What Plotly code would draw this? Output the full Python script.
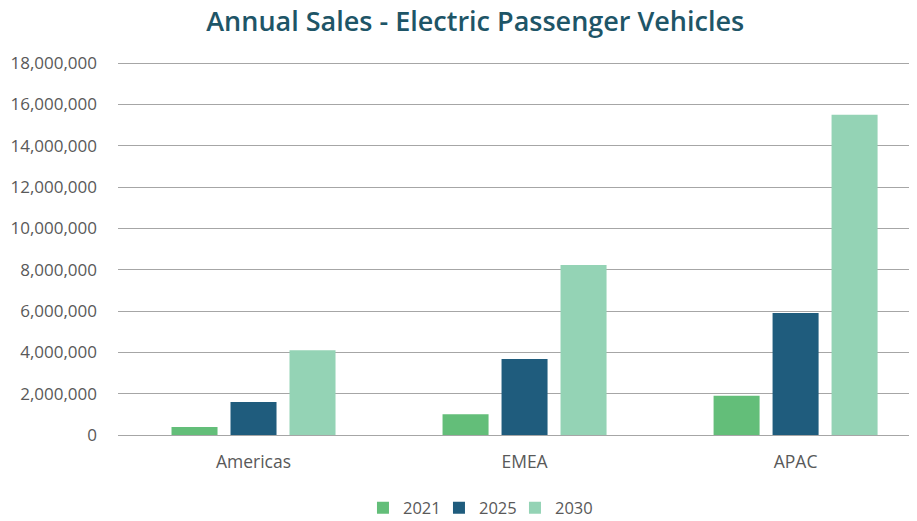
import plotly.graph_objects as go

regions = ["Americas", "EMEA", "APAC"]
years = ["2021", "2025", "2030"]
sales_2021 = [390000, 1000000, 1900000]
sales_2025 = [1600000, 3680000, 5900000]
sales_2030 = [4100000, 8230000, 15500000]
tick_vals = [0, 2000000, 4000000, 6000000, 8000000, 10000000, 12000000, 14000000, 16000000, 18000000]

colors = ["#63BE79", "#1F5C7D", "#94D3B5"]
series = [sales_2021, sales_2025, sales_2030]

fig = go.Figure()
for name, vals, c in zip(years, series, colors):
    fig.add_trace(go.Bar(x=regions, y=vals, name=name, marker=dict(color=c, line=dict(width=0))))
# invisible spacer entry so the last legend label is not clipped
fig.add_trace(go.Scatter(x=[None], y=[None], mode="markers", name=" ",
                         marker=dict(color="rgba(0,0,0,0)", size=1), hoverinfo="skip"))

fig.update_layout(
    width=909, height=513,
    paper_bgcolor="white", plot_bgcolor="white",
    margin=dict(l=110, r=0, t=54, b=86, autoexpand=False),
    font=dict(family="Open Sans, Noto Sans, sans-serif", color="#595959", size=15),
    title=dict(text="Annual Sales - Electric Passenger Vehicles", x=0.514, xanchor="center",
               y=0.973, yanchor="middle",
               font=dict(size=27, weight=600, color="#1E5567", family="Open Sans, Noto Sans, sans-serif")),
    barmode="group", bargap=0.347, bargroupgap=0.22,
    legend=dict(orientation="h", x=0.3066, xanchor="left", y=-0.196, yanchor="middle",
                font=dict(size=16.5, color="#595959"), traceorder="normal",
                entrywidth=31, entrywidthmode="pixels", bgcolor="rgba(0,0,0,0)"),
    showlegend=True,
)
fig.update_xaxes(range=[-0.5, 2.448], showgrid=False, showline=False, ticks="",
                 ticklabelstandoff=14, tickfont=dict(size=17.5, color="#595959"))
fig.update_yaxes(range=[0, 18050000], tickvals=tick_vals, tickformat=",d", showgrid=True, gridcolor="#A6A6A6",
                 gridwidth=1, zeroline=True, zerolinecolor="#A6A6A6", zerolinewidth=1, ticks="",
                 ticklabelstandoff=20, tickfont=dict(size=17, color="#595959"))

fig.write_html("out.html")
